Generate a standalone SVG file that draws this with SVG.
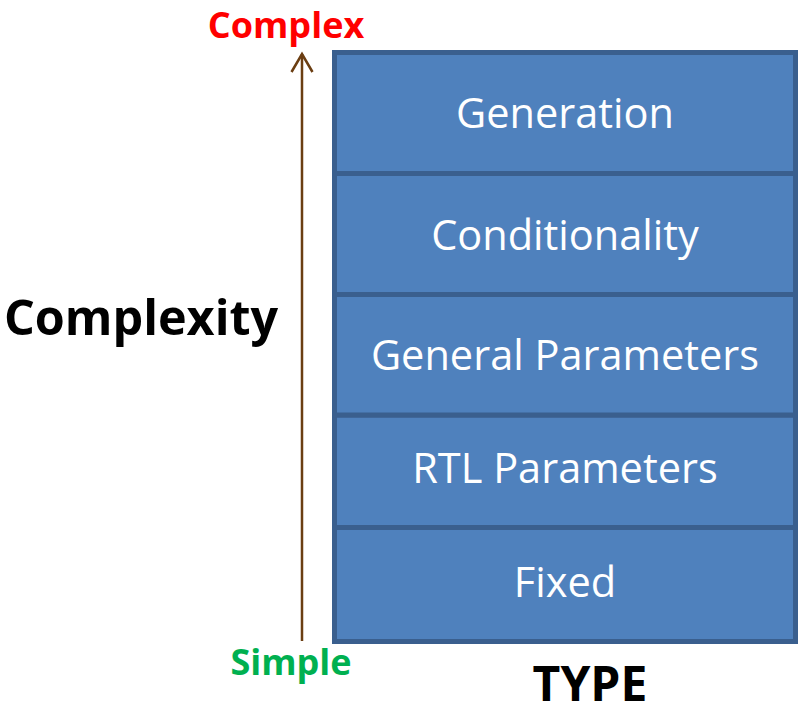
<svg xmlns="http://www.w3.org/2000/svg" width="798" height="714" viewBox="0 0 798 714">
  <style>
    .row { fill: #4f81bd; stroke: #3a5f8e; stroke-width: 5; }
    .rowtext { font-family: "Open Sans", "Liberation Sans", sans-serif; font-size: 41.5px; fill: #ffffff; text-anchor: middle; }
    .axis { fill: none; stroke: #6b3e12; stroke-width: 2.5; }
    .bold { font-family: "Open Sans", "Liberation Sans", sans-serif; font-weight: bold; text-anchor: middle; }
  </style>
  <rect width="798" height="714" fill="#ffffff"/>

  <g id="connectors">
    <line class="axis" x1="302" y1="641" x2="302" y2="54"/>
    <polyline class="axis" points="291.5,72 302,54 312.5,72"/>
  </g>

  <g id="type-stack">
    <g id="fixed">
      <rect class="row" x="334.5" y="527.5" width="461" height="114"/>
      <text class="rowtext" x="565" y="597">Fixed</text>
    </g>
    <g id="rtl-parameters">
      <rect class="row" x="334.5" y="415" width="461" height="112.5"/>
      <text class="rowtext" x="565" y="483">RTL Parameters</text>
    </g>
    <g id="general-parameters">
      <rect class="row" x="334.5" y="294.5" width="461" height="120.5"/>
      <text class="rowtext" x="565" y="370">General Parameters</text>
    </g>
    <g id="conditionality">
      <rect class="row" x="334.5" y="173.5" width="461" height="121"/>
      <text class="rowtext" x="565" y="250">Conditionality</text>
    </g>
    <g id="generation">
      <rect class="row" x="334.5" y="52.5" width="461" height="121"/>
      <text class="rowtext" x="565" y="128">Generation</text>
    </g>
  </g>

  <g id="labels">
    <text class="bold" x="286" y="38" font-size="36" fill="#ff0000">Complex</text>
    <text class="bold" x="291" y="675" font-size="36" fill="#00b050">Simple</text>
    <text class="bold" x="141" y="335" font-size="48.5" fill="#000000">Complexity</text>
    <text class="bold" x="590" y="701" font-size="48" fill="#000000">TYPE</text>
  </g>
</svg>
